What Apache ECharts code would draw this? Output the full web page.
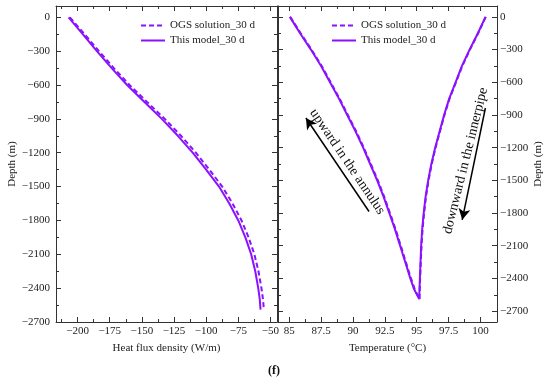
<!DOCTYPE html>
<html><head><meta charset="utf-8">
<script src="https://cdn.jsdelivr.net/npm/echarts@6/dist/echarts.min.js"></script>
<style>html,body{margin:0;padding:0;background:#fff}#c{width:550px;height:380px}</style>
</head><body><div id="c"></div>
<script>
// ---- data ----
const depth = [0,-150,-300,-450,-600,-750,-900,-1050,-1200,-1350,-1500,-1650,-1800,-1950,-2100,-2250,-2400,-2500,-2590];
const fluxModel = [-207,-196,-185,-173.5,-161.5,-148,-134.5,-122,-110.5,-100,-90,-82,-75,-69.5,-65,-61.8,-59.5,-58.3,-57.7];
const fluxOGS   = [-206,-194.6,-183.4,-171.8,-159.6,-146,-132.2,-119.6,-108,-97.5,-87.5,-79.5,-72.5,-67,-62.5,-59.3,-57,-55.8,-55.1];
const tAnnulusModel = [85.05,85.85,86.7,87.5,88.2,88.9,89.55,90.2,90.8,91.35,91.9,92.4,92.85,93.3,93.7,94.1,94.5,94.8,95.2];
const tInnerModel   = [100.4,99.8,99.15,98.55,98.05,97.55,97.15,96.8,96.45,96.15,95.9,95.7,95.55,95.43,95.35,95.3,95.25,95.22,95.2];
const tAnnulusOGS   = [85.08,85.9,86.75,87.55,88.25,88.95,89.6,90.25,90.85,91.4,91.95,92.45,92.9,93.35,93.75,94.15,94.55,94.85,95.22];
const tInnerOGS     = [100.42,99.82,99.18,98.58,98.08,97.58,97.18,96.83,96.48,96.18,95.93,95.73,95.58,95.46,95.38,95.32,95.27,95.24,95.22];
const fluxTicks  = [-200,-175,-150,-125,-100,-75,-50];
const tempTicks  = [85,87.5,90,92.5,95,97.5,100];
const depthTicks = [0,-300,-600,-900,-1200,-1500,-1800,-2100,-2400,-2700];
const seriesNames = ['OGS solution_30 d','This model_30 d'];
const annotations = [
  {text:'upward in the annulus', at:[89.55,-1329], angle:-56},
  {text:'downward in the innerpipe', at:[98.83,-1320], angle:76}
];
const arrows = [
  [[91.26,-1786],[86.31,-928]],
  [[100.39,-836],[98.57,-1862]]
];

// ---- helpers ----
const font = 'Liberation Serif';
const lineCol = '#333';
const purple = '#8A12FF';
function mids(t){const m=[];for(let i=0;i<t.length-1;i++)m.push((t[i]+t[i+1])/2);return m;}
const fmt = v => String(v).replace('-', '\u2212');
function ax(o){
  return {
    type:'value', gridIndex:o.grid, min:o.min, max:o.max, position:o.pos,
    axisLine:{show:o.line!==false, onZero:false, lineStyle:{color:lineCol,width:1}},
    axisTick:{show:true, inside:true, length:o.len, customValues:o.ticks, lineStyle:{color:lineCol,width:1}},
    axisLabel:o.labels ? {show:true, customValues:o.ticks, formatter:fmt, margin:o.margin,
        fontFamily:font, fontSize:11, color:'#222'} : {show:false},
    splitLine:{show:false},
    name:o.name||'', nameLocation:'middle', nameGap:o.nameGap||0, nameRotate:o.nameRotate,
    nameTextStyle:{fontFamily:font, fontSize:11, color:'#222'}
  };
}
const fluxRange = {min:-216.8, max:-44.9};
const tempRange = {min:84.12, max:101.3};
const depthL = {min:-2700, max:100};
const depthR = {min:-2800, max:100};
const fluxMinor = [-212.5].concat(mids(fluxTicks));
const tempMinor = mids(tempTicks);
const depthMinor = mids(depthTicks);

const xAxis = [
  ax(Object.assign({grid:0,pos:'bottom',len:5,ticks:fluxTicks,labels:true,margin:4,name:'Heat flux density (W/m)',nameGap:21},fluxRange)),
  ax(Object.assign({grid:0,pos:'top',len:5,ticks:fluxTicks},fluxRange)),
  ax(Object.assign({grid:0,pos:'bottom',len:3,ticks:fluxMinor,line:false},fluxRange)),
  ax(Object.assign({grid:0,pos:'top',len:3,ticks:fluxMinor,line:false},fluxRange)),
  ax(Object.assign({grid:1,pos:'bottom',len:5,ticks:tempTicks,labels:true,margin:4,name:'Temperature (°C)',nameGap:21},tempRange)),
  ax(Object.assign({grid:1,pos:'top',len:5,ticks:tempTicks},tempRange)),
  ax(Object.assign({grid:1,pos:'bottom',len:3,ticks:tempMinor,line:false},tempRange)),
  ax(Object.assign({grid:1,pos:'top',len:3,ticks:tempMinor,line:false},tempRange))
];
const yAxis = [
  ax(Object.assign({grid:0,pos:'left',len:5,ticks:depthTicks,labels:true,margin:6,name:'Depth (m)',nameGap:38,nameRotate:90},depthL)),
  ax(Object.assign({grid:0,pos:'right',len:5,ticks:depthTicks},depthL)),
  ax(Object.assign({grid:0,pos:'left',len:3,ticks:depthMinor,line:false},depthL)),
  ax(Object.assign({grid:0,pos:'right',len:3,ticks:depthMinor,line:false},depthL)),
  ax(Object.assign({grid:1,pos:'right',len:5,ticks:depthTicks,labels:true,margin:3,name:'Depth (m)',nameGap:36,nameRotate:90},depthR)),
  ax(Object.assign({grid:1,pos:'left',len:5,ticks:depthTicks},depthR)),
  ax(Object.assign({grid:1,pos:'right',len:3,ticks:depthMinor,line:false},depthR)),
  ax(Object.assign({grid:1,pos:'left',len:3,ticks:depthMinor,line:false},depthR))
];

const pair = (xs, ys) => xs.map((x,i)=>[x, ys[i]]);
const vShape = (ann, inn) => pair(ann, depth).concat(pair(inn, depth).reverse());
const dashed = {color:purple, width:2, type:[5,3]};
const solid = {color:purple, width:2, type:'solid'};
function line(name, data, style, xi, yi, extra){
  return Object.assign({name, type:'line', data, xAxisIndex:xi, yAxisIndex:yi, symbol:'none',
    lineStyle:style, itemStyle:{color:purple}, silent:true, animation:false}, extra||{});
}

const chart = echarts.init(document.getElementById('c'), null, {renderer:'canvas'});
const legendBase = {orient:'vertical', top:20, itemWidth:24, itemHeight:11, itemGap:4, data:seriesNames,
  textStyle:{fontFamily:font, fontSize:11, color:'#222'},
  itemStyle:{color:'rgba(0,0,0,0)', borderWidth:0, opacity:0}, selectedMode:false, padding:0};
chart.setOption({
  backgroundColor:'#fff',
  animation:false,
  grid:[{left:56, top:6, width:221, height:316},{left:278, top:6, width:219, height:316}],
  xAxis, yAxis,
  legend:[Object.assign({left:140}, legendBase), Object.assign({left:331}, legendBase)],
  series:[
    line(seriesNames[0], pair(fluxOGS, depth), dashed, 0, 0),
    line(seriesNames[1], pair(fluxModel, depth), solid, 0, 0),
    line(seriesNames[1], vShape(tAnnulusModel, tInnerModel), solid, 4, 4, {
      markLine:{silent:true, symbol:['none','arrow'], symbolSize:[9,11],
        lineStyle:{color:'#000', width:1.5, type:'solid'}, label:{show:false},
        data: arrows.map(a=>[{coord:a[0]},{coord:a[1]}])}
    }),
    line(seriesNames[0], vShape(tAnnulusOGS, tInnerOGS), dashed, 4, 4)
  ]
});
const g = annotations.map(a=>{
  const p = chart.convertToPixel({xAxisIndex:4, yAxisIndex:4}, a.at);
  return {type:'text', x:p[0], y:p[1], rotation:a.angle*Math.PI/180,
    style:{text:a.text, font:'14px "Liberation Serif"', fill:'#111', align:'center', verticalAlign:'middle'}};
});
chart.setOption({graphic:[{type:'text', left:268, top:365, style:{text:'(f)', font:'bold 12px "Liberation Serif"', fill:'#111'}}].concat(g)});
</script></body></html>
